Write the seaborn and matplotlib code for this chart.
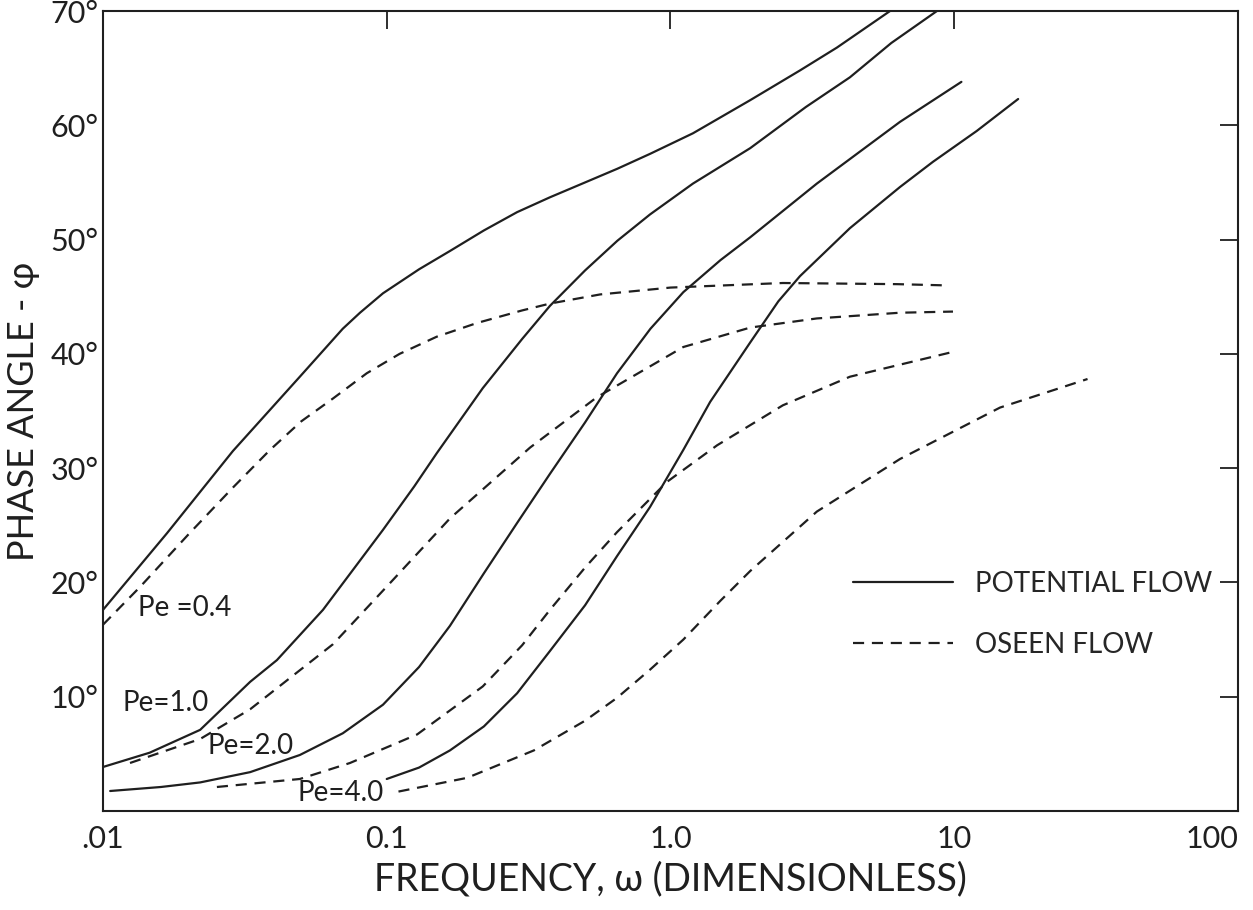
import numpy as np
import pandas as pd
import matplotlib
matplotlib.use("Agg")
import matplotlib.pyplot as plt
import seaborn as sns
from matplotlib.lines import Line2D
from matplotlib.ticker import NullLocator

# ---------------- data ----------------
# Pe = 0.4
pe04_pot_w = [0.01, 0.0168, 0.0287, 0.0494, 0.07, 0.0805, 0.097, 0.13, 0.167, 0.22, 0.288, 0.376, 0.5, 0.65, 0.847, 1.2, 1.91, 2.86, 3.86, 5.94]
pe04_pot_p = [17.6, 24.3, 31.5, 38.0, 42.2, 43.6, 45.3, 47.4, 49.0, 50.8, 52.4, 53.7, 55.0, 56.2, 57.5, 59.3, 62.2, 64.8, 66.8, 70.0]
pe04_os_w = [0.01, 0.0135, 0.02, 0.0287, 0.0388, 0.05, 0.0647, 0.085, 0.111, 0.15, 0.208, 0.3, 0.376, 0.565, 1.0, 2.49, 6.28, 9.06]
pe04_os_p = [16.3, 19.6, 24.2, 28.3, 31.6, 34.1, 36.1, 38.3, 40.0, 41.5, 42.7, 43.8, 44.4, 45.2, 45.8, 46.2, 46.1, 46.0]
# Pe = 1.0
pe10_pot_w = [0.01, 0.0146, 0.022, 0.033, 0.041, 0.0596, 0.097, 0.125, 0.15, 0.218, 0.3, 0.376, 0.5, 0.65, 0.847, 1.2, 1.91, 3.0, 4.29, 6.0, 8.69]
pe10_pot_p = [3.85, 5.1, 7.1, 11.3, 13.2, 17.6, 24.6, 28.4, 31.3, 37.0, 41.3, 44.2, 47.3, 49.9, 52.2, 54.9, 58.0, 61.6, 64.2, 67.2, 70.0]
pe10_os_w = [0.01245, 0.022, 0.033, 0.0647, 0.105, 0.167, 0.32, 0.55, 1.11, 1.91, 3.28, 6.44, 9.9]
pe10_os_p = [4.2, 6.3, 8.9, 14.6, 20.2, 25.6, 31.8, 36.2, 40.6, 42.3, 43.1, 43.6, 43.7]
# Pe = 2.0
pe20_pot_w = [0.0106, 0.016, 0.022, 0.033, 0.0494, 0.07, 0.097, 0.13, 0.167, 0.22, 0.288, 0.376, 0.5, 0.648, 0.85, 1.11, 1.5, 1.91, 3.28, 6.44, 10.6]
pe20_pot_p = [1.75, 2.1, 2.5, 3.4, 4.9, 6.8, 9.3, 12.6, 16.2, 20.8, 25.2, 29.5, 34.0, 38.3, 42.2, 45.4, 48.2, 50.2, 54.9, 60.3, 63.8]
pe20_os_w = [0.0252, 0.0494, 0.0742, 0.128, 0.218, 0.3, 0.376, 0.5, 0.648, 0.972, 1.46, 2.49, 4.29, 10.0]
pe20_os_p = [2.1, 2.8, 4.2, 6.7, 10.9, 14.5, 17.6, 21.3, 24.4, 28.8, 32.0, 35.5, 38.0, 40.2]
# Pe = 4.0
pe40_pot_w = [0.1, 0.13, 0.167, 0.22, 0.288, 0.376, 0.5, 0.648, 0.847, 1.11, 1.38, 1.91, 2.4, 2.86, 4.29, 6.44, 8.41, 12.0, 16.8]
pe40_pot_p = [2.8, 3.8, 5.3, 7.4, 10.3, 14.0, 18.0, 22.3, 26.6, 31.6, 35.8, 41.0, 44.6, 46.8, 51.0, 54.6, 56.8, 59.5, 62.3]
pe40_os_w = [0.11, 0.192, 0.33, 0.5, 0.648, 0.85, 1.11, 1.5, 1.91, 3.28, 6.44, 14.5, 29.5]
pe40_os_p = [1.7, 2.9, 5.3, 7.9, 9.9, 12.4, 15.0, 18.4, 21.0, 26.2, 30.8, 35.3, 37.8]

flow_names = ["POTENTIAL FLOW", "OSEEN FLOW"]
pe_labels = ["Pe =0.4", "Pe=1.0", "Pe=2.0", "Pe=4.0"]
x_ticks = [0.01, 0.1, 1, 10, 100]
x_ticklabels = [".01", "0.1", "1.0", "10", "100"]
y_ticks = [10, 20, 30, 40, 50, 60, 70]
y_ticklabels = ["10°", "20°", "30°", "40°", "50°", "60°", "70°"]

series = [
    ("0.4", flow_names[0], pe04_pot_w, pe04_pot_p),
    ("0.4", flow_names[1], pe04_os_w, pe04_os_p),
    ("1.0", flow_names[0], pe10_pot_w, pe10_pot_p),
    ("1.0", flow_names[1], pe10_os_w, pe10_os_p),
    ("2.0", flow_names[0], pe20_pot_w, pe20_pot_p),
    ("2.0", flow_names[1], pe20_os_w, pe20_os_p),
    ("4.0", flow_names[0], pe40_pot_w, pe40_pot_p),
    ("4.0", flow_names[1], pe40_os_w, pe40_os_p),
]
rows = []
for pe, flow, ws, ps in series:
    for w, p in zip(ws, ps):
        rows.append({"omega": w, "phi": p, "Pe": pe, "flow": flow})
df = pd.DataFrame(rows)

# ---------------- style ----------------
sns.set_style("white")
plt.rcParams["font.family"] = ["Lato", "DejaVu Sans"]
INK = "#1f1f1f"

fig = plt.figure(figsize=(12.53, 9.10), dpi=100)
ax = fig.add_axes([0.0822, 0.1088, 0.9058, 0.8791])

dash_map = {flow_names[0]: "", flow_names[1]: (5, 3.5)}
sns.lineplot(data=df, x="omega", y="phi", style="flow", units="Pe",
             estimator=None, sort=False, color=INK, dashes=dash_map,
             linewidth=1.6, legend=False, ax=ax)

ax.set_xscale("log")
ax.set_xlim(0.01, 100)
ax.set_ylim(0, 70)
ax.set_xticks(x_ticks)
ax.set_xticklabels(x_ticklabels)
ax.xaxis.set_minor_locator(NullLocator())
ax.set_yticks(y_ticks)
ax.set_yticklabels(y_ticklabels)
ax.get_xticklabels()[-1].set_ha("right")

for s in ax.spines.values():
    s.set_linewidth(1.5)
    s.set_color(INK)
ax.tick_params(which="major", direction="in", length=13, width=1.3, color=INK,
               top=True, right=True, labelsize=22, labelcolor=INK)
ax.tick_params(axis="x", pad=10)
ax.tick_params(axis="y", pad=3)

ax.set_xlabel("FREQUENCY, ω (DIMENSIONLESS)", fontsize=27, color=INK, labelpad=6)
ax.set_ylabel("PHASE ANGLE - φ", fontsize=26, color=INK, labelpad=8)

# curve labels
label_pos = [(0.01328, 17.8), (0.01167, 9.45), (0.02344, 5.69), (0.0486, 1.57)]
for txt, (lx, ly) in zip(pe_labels, label_pos):
    ax.text(lx, ly, txt, fontsize=20, ha="left", va="center", color=INK)

handles = [Line2D([], [], color=INK, lw=1.6, ls="-"),
           Line2D([], [], color=INK, lw=1.6, ls=(0, (5, 3.5)))]
ax.legend(handles, flow_names, frameon=False, fontsize=20, handlelength=3.6,
          handletextpad=0.8, labelspacing=1.25, loc="upper left",
          bbox_to_anchor=(0.661, 0.300), borderaxespad=0, borderpad=0)

fig.savefig("out.png", dpi=100)
